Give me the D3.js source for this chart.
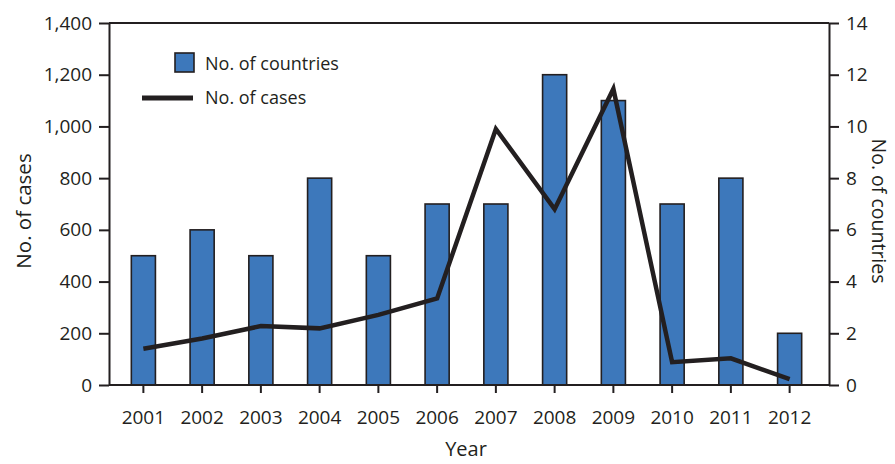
<!DOCTYPE html>
<html>
<head>
<meta charset="utf-8">
<script src="https://cdn.jsdelivr.net/npm/d3@7"></script>
<style>
  body { margin: 0; background: #fff; }
  svg { display: block; font-family: "Open Sans", sans-serif; }
</style>
</head>
<body>
<div id="chart"></div>
<script>
const years = ["2001","2002","2003","2004","2005","2006","2007","2008","2009","2010","2011","2012"];
const countries = [5, 6, 5, 8, 5, 7, 7, 12, 11, 7, 8, 2];
const cases = [140, 180, 228, 219, 271, 335, 990, 680, 1145, 88, 103, 23];
const caseTicks = [0, 200, 400, 600, 800, 1000, 1200, 1400];
const countryTicks = [0, 2, 4, 6, 8, 10, 12, 14];

const width = 895, height = 464;
const plotL = 109, plotR = 829, plotT = 23, plotB = 385;
const ink = "#231f20";
const blue = "#3d78bb";

const svg = d3.select("#chart").append("svg")
  .attr("width", width)
  .attr("height", height);

const x = d3.scaleBand()
  .domain(years)
  .range([114, 819])
  .paddingInner(0.59)
  .paddingOuter(0.295);

const yL = d3.scaleLinear().domain([0, 1400]).range([plotB, plotT]);
const yR = d3.scaleLinear().domain([0, 14]).range([plotB, plotT]);

// bars
svg.append("g")
  .selectAll("rect")
  .data(countries)
  .join("rect")
    .attr("x", (d, i) => x(years[i]))
    .attr("y", d => yR(d))
    .attr("width", x.bandwidth())
    .attr("height", d => plotB - yR(d))
    .attr("fill", blue)
    .attr("stroke", ink)
    .attr("stroke-width", 1.6);

// line
const line = d3.line()
  .x((d, i) => x(years[i]) + x.bandwidth() / 2)
  .y(d => yL(d));

svg.append("path")
  .datum(cases)
  .attr("d", line)
  .attr("fill", "none")
  .attr("stroke", ink)
  .attr("stroke-width", 4.5)
  .attr("stroke-linejoin", "miter");

// top frame line
svg.append("line").attr("x1", plotL).attr("x2", plotR).attr("y1", plotT).attr("y2", plotT)
  .attr("stroke", ink).attr("stroke-width", 2);

// axes
const fmt = d3.format(",");
const axL = svg.append("g").attr("transform", `translate(${plotL},0)`)
  .call(d3.axisLeft(yL).tickValues(caseTicks).tickFormat(fmt).tickSize(10).tickSizeOuter(0).tickPadding(7));
const axR = svg.append("g").attr("transform", `translate(${plotR},0)`)
  .call(d3.axisRight(yR).tickValues(countryTicks).tickSize(10).tickSizeOuter(0).tickPadding(7));
const axB = svg.append("g").attr("transform", `translate(0,${plotB})`)
  .call(d3.axisBottom(x).tickSize(8).tickSizeOuter(0).tickPadding(18));

axB.select(".domain").attr("d", `M${plotL},0H${plotR}`);

[axL, axR, axB].forEach(g => {
  g.select(".domain").attr("stroke", ink).attr("stroke-width", 2);
  g.selectAll(".tick line").attr("stroke", ink).attr("stroke-width", 2);
  g.selectAll(".tick text").attr("fill", ink).style("font-size", "19px").style("font-family", "'Open Sans', sans-serif");
});

// titles
svg.append("text")
  .attr("transform", "translate(31,211) rotate(-90)")
  .attr("text-anchor", "middle")
  .attr("fill", ink)
  .style("font-size", "20.5px")
  .text("No. of cases");

svg.append("text")
  .attr("transform", "translate(872,211) rotate(90)")
  .attr("text-anchor", "middle")
  .attr("fill", ink)
  .style("font-size", "19.5px")
  .text("No. of countries");

svg.append("text")
  .attr("x", 466)
  .attr("y", 456)
  .attr("text-anchor", "middle")
  .attr("fill", ink)
  .style("font-size", "20px")
  .text("Year");

// legend
const lg = svg.append("g");
lg.append("rect")
  .attr("x", 175).attr("y", 53).attr("width", 19).attr("height", 19)
  .attr("fill", blue).attr("stroke", ink).attr("stroke-width", 1.6);
lg.append("text")
  .attr("x", 205).attr("y", 70)
  .attr("fill", ink).style("font-size", "18px")
  .text("No. of countries");
lg.append("line")
  .attr("x1", 142).attr("x2", 193).attr("y1", 98).attr("y2", 98)
  .attr("stroke", ink).attr("stroke-width", 5);
lg.append("text")
  .attr("x", 205).attr("y", 104)
  .attr("fill", ink).style("font-size", "18px")
  .text("No. of cases");
</script>
</body>
</html>
